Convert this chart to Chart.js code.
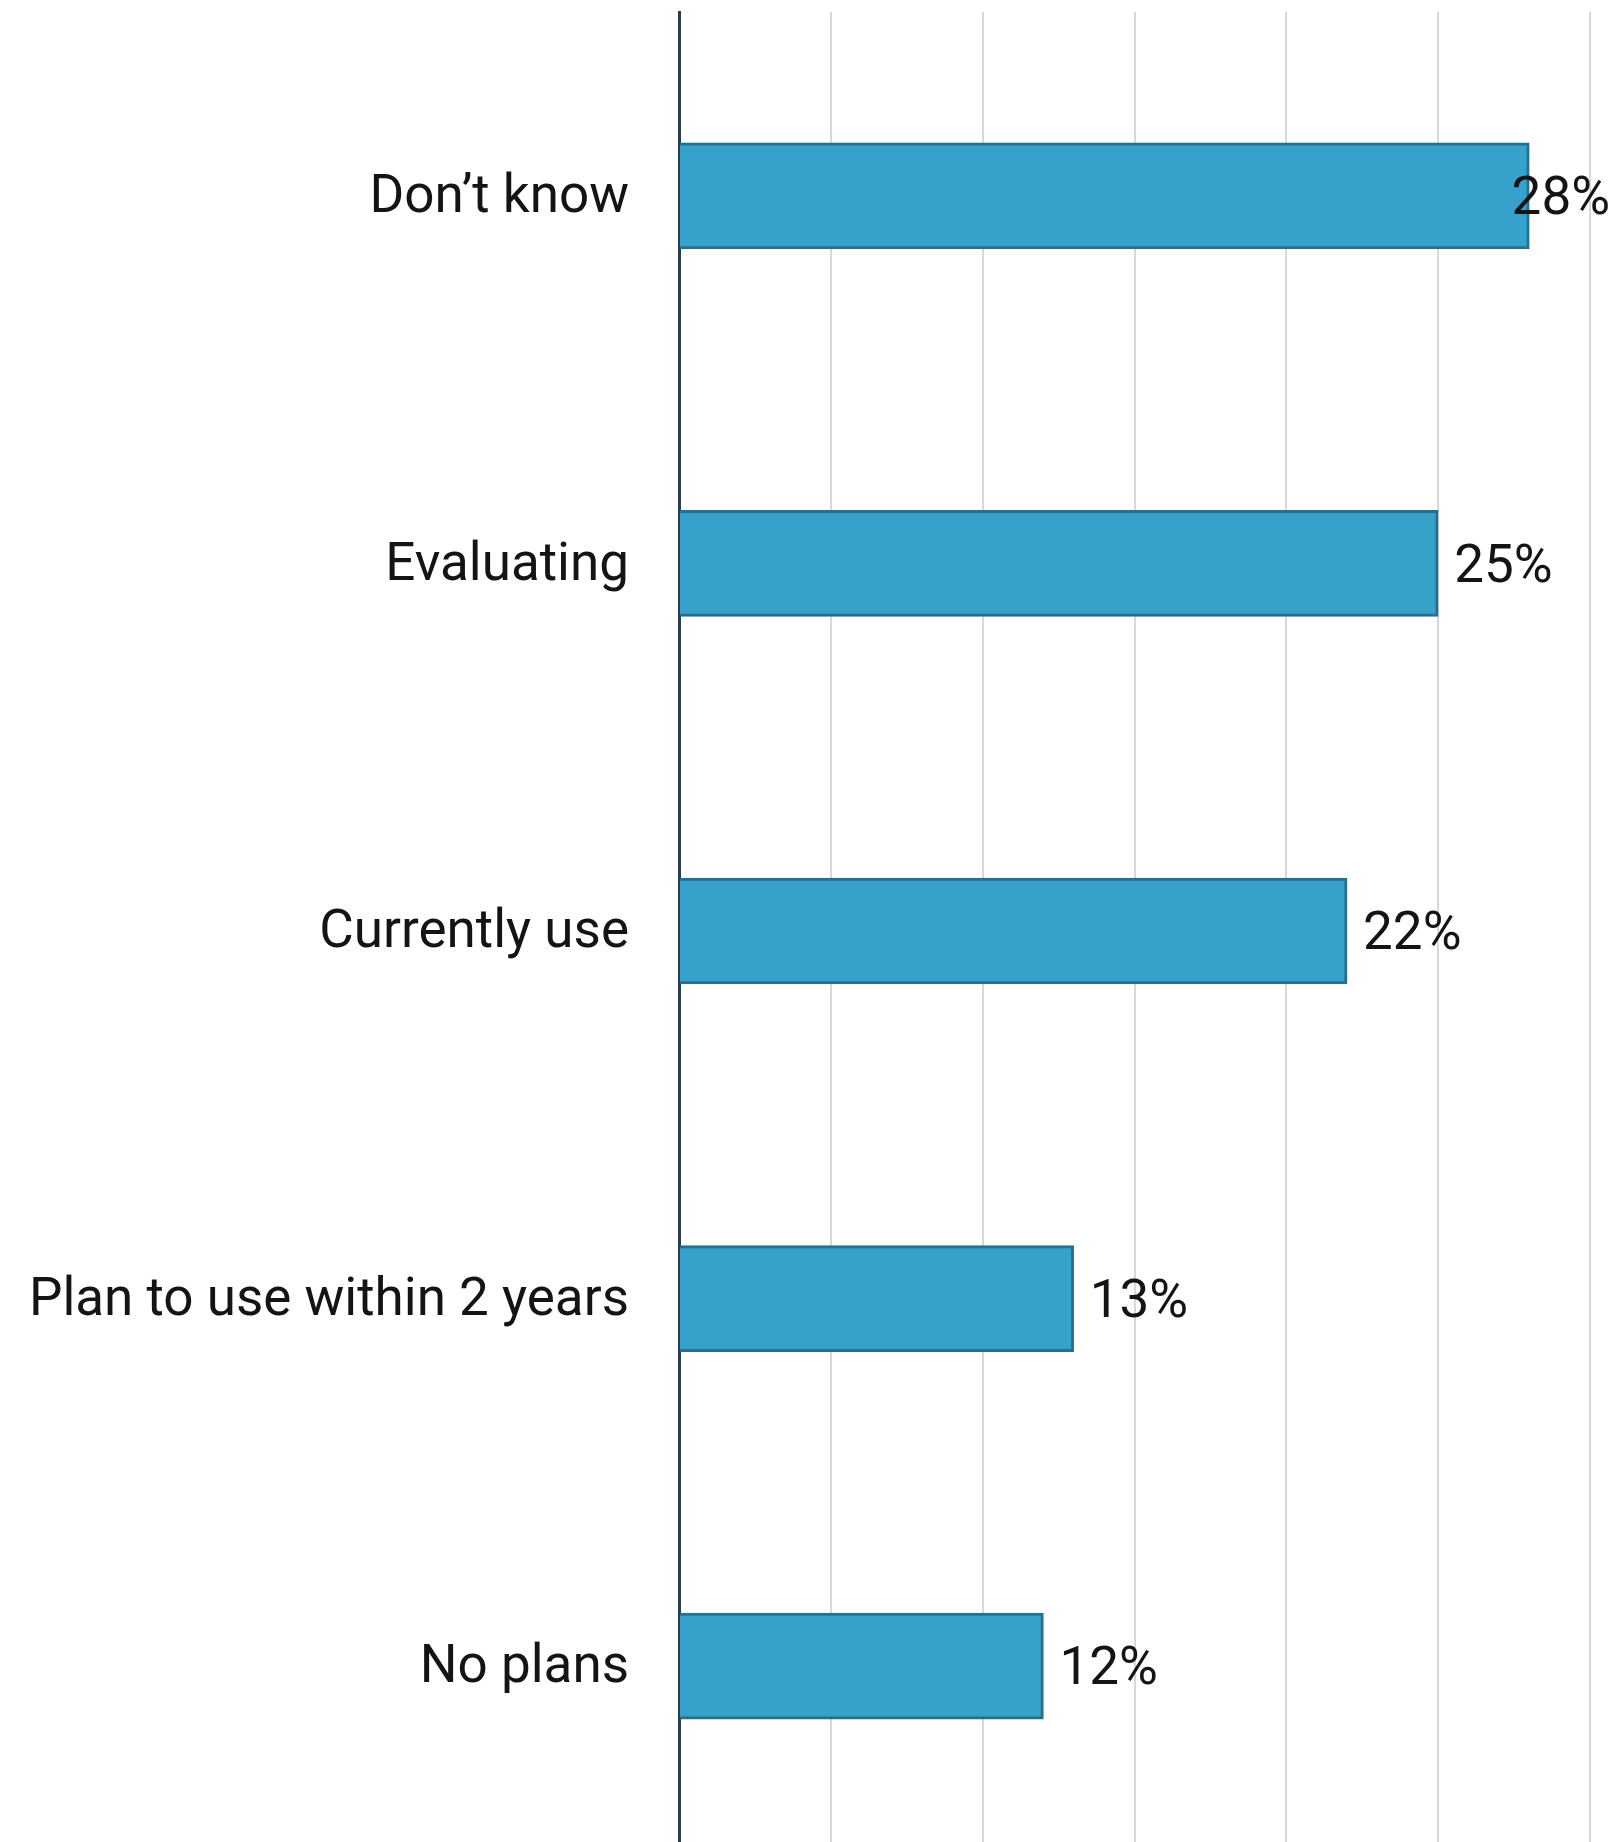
<!DOCTYPE html>
<html>
<head>
<meta charset="utf-8">
<script src="https://cdn.jsdelivr.net/npm/chart.js@4/dist/chart.umd.min.js"></script>
<style>
  html, body { margin: 0; padding: 0; background: #ffffff; overflow: hidden; }
  #wrap { width: 1614px; height: 1850px; }
</style>
</head>
<body>
<div id="wrap"><canvas id="chart" width="1614" height="1850"></canvas></div>
<script>
// Survey responses: adoption status
const categories = ["Don\u2019t know", "Evaluating", "Currently use", "Plan to use within 2 years", "No plans"];
const shares = [28, 25, 22, 13, 12];
const axisMax = 30;
const axisStep = 5;

const FONT = "Roboto, 'Liberation Sans', sans-serif";
const FONT_SIZE = 53;

// Draws the percentage next to the end of each bar, kept inside the canvas
const valueLabels = {
  id: 'valueLabels',
  afterDatasetsDraw(chart) {
    const { ctx } = chart;
    const meta = chart.getDatasetMeta(0);
    ctx.save();
    ctx.font = FONT_SIZE + 'px ' + FONT;
    ctx.fillStyle = '#141414';
    ctx.textBaseline = 'middle';
    ctx.textAlign = 'left';
    meta.data.forEach((bar, i) => {
      const text = shares[i] + '%';
      const w = ctx.measureText(text).width;
      let x = bar.x + 16;
      const limit = chart.width - w - 4;
      if (x > limit) x = limit;
      ctx.fillText(text, x, bar.y + 5);
    });
    ctx.restore();
  }
};

new Chart(document.getElementById('chart'), {
  type: 'bar',
  data: {
    labels: categories,
    datasets: [{
      data: shares,
      backgroundColor: '#36a2cb',
      borderColor: '#27708c',
      borderWidth: 3,
      borderSkipped: 'left',
      barThickness: 106
    }]
  },
  options: {
    indexAxis: 'y',
    responsive: false,
    animation: false,
    devicePixelRatio: 1,
    layout: { padding: { top: 12, right: 24, bottom: 0, left: 0 } },
    plugins: {
      legend: { display: false },
      tooltip: { enabled: false }
    },
    scales: {
      x: {
        min: 0,
        max: axisMax,
        ticks: { display: false, stepSize: axisStep },
        grid: { color: '#d8d8d8', lineWidth: 2, drawTicks: false },
        border: { display: false },
        afterFit(scale) { scale.height = 0; scale.paddingLeft = 0; scale.paddingRight = 0; }
      },
      y: {
        grid: { display: false, drawTicks: false },
        border: { display: true, color: '#2c3c4e', width: 3 },
        ticks: {
          color: '#141414',
          padding: 50,
          labelOffset: 3,
          font: { family: FONT, size: FONT_SIZE }
        },
        afterFit(scale) {
          scale.width = 679;
          scale.paddingTop = 0;
          scale.paddingBottom = 0;
        }
      }
    }
  },
  plugins: [valueLabels]
});
</script>
</body>
</html>
